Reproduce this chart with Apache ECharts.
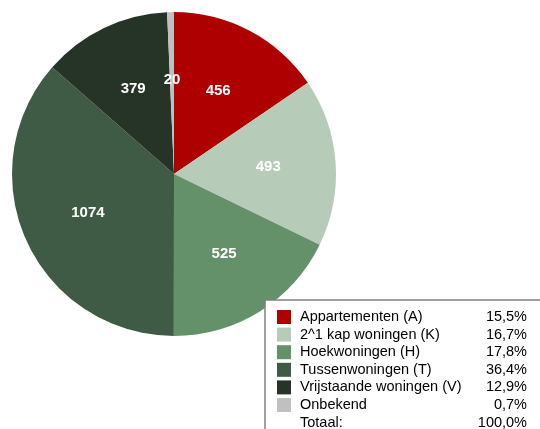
<!DOCTYPE html>
<html>
<head>
<meta charset="utf-8">
<script src="https://cdn.jsdelivr.net/npm/echarts@6/dist/echarts.min.js"></script>
<style>
  html, body { margin: 0; padding: 0; background: #fff; }
  #chart { width: 540px; height: 429px; }
</style>
</head>
<body>
<div id="chart"></div>
<script>
// Woningtypen: aantallen per type
const categories = [
  'Appartementen (A)',
  '2^1 kap woningen (K)',
  'Hoekwoningen (H)',
  'Tussenwoningen (T)',
  'Vrijstaande woningen (V)',
  'Onbekend'
];
const counts = [456, 493, 525, 1074, 379, 20];
const colors = ['#AE0000', '#B6CCB8', '#64906A', '#3F5B45', '#263428', '#C0C0C0'];
const totalLabel = 'Totaal:';

const FONT = '"Liberation Sans", Arial, sans-serif';
const total = counts.reduce((a, b) => a + b, 0);
const fmtPct = v => (v * 100).toFixed(1).replace('.', ',') + '%';
const shares = counts.map(c => fmtPct(c / total));

const pieData = categories.map((name, i) => ({
  name,
  value: counts[i],
  itemStyle: { color: colors[i] }
}));

// Legend box with swatches, names and shares
const boxX = 265, boxY = 300, rowH = 17.6, firstRow = 317;
const legendEls = [{
  type: 'rect',
  shape: { x: boxX, y: boxY, width: 320, height: 200 },
  style: { fill: '#fff', stroke: '#808080', lineWidth: 1.5 },
  z: 100
}];
categories.forEach((name, i) => {
  const cy = firstRow + i * rowH;
  legendEls.push({
    type: 'rect',
    shape: { x: 277, y: cy - 7, width: 14, height: 14 },
    style: { fill: colors[i] },
    z: 101
  });
  legendEls.push({
    type: 'text',
    x: 300, y: cy,
    style: { text: name, font: '14.5px ' + FONT, fill: '#000', verticalAlign: 'middle', align: 'left' },
    z: 101
  });
  legendEls.push({
    type: 'text',
    x: 527, y: cy,
    style: { text: shares[i], font: '14.5px ' + FONT, fill: '#000', verticalAlign: 'middle', align: 'right' },
    z: 101
  });
});
const totY = firstRow + categories.length * rowH;
legendEls.push({
  type: 'text', x: 300, y: totY,
  style: { text: totalLabel, font: '14.5px ' + FONT, fill: '#000', verticalAlign: 'middle', align: 'left' },
  z: 101
});
legendEls.push({
  type: 'text', x: 527, y: totY,
  style: { text: fmtPct(total / total), font: '14.5px ' + FONT, fill: '#000', verticalAlign: 'middle', align: 'right' },
  z: 101
});

const chart = echarts.init(document.getElementById('chart'), null, { renderer: 'canvas' });
chart.setOption({
  animation: false,
  backgroundColor: '#fff',
  series: [
    {
      // the slices
      type: 'pie',
      center: [174, 174],
      radius: [0, 162],
      startAngle: 90,
      clockwise: true,
      silent: true,
      label: { show: false },
      labelLine: { show: false },
      itemStyle: { borderWidth: 0 },
      emphasis: { disabled: true },
      data: pieData
    },
    {
      // value labels placed a bit outward from the slice midpoint
      type: 'pie',
      center: [174, 174],
      radius: [0, 183],
      startAngle: 90,
      clockwise: true,
      silent: true,
      itemStyle: { color: 'rgba(0,0,0,0)', borderWidth: 0 },
      emphasis: { disabled: true },
      label: {
        show: true,
        position: 'inside',
        formatter: p => String(p.value),
        color: '#fff',
        fontFamily: FONT,
        fontWeight: 'bold',
        fontSize: 15,
        textBorderWidth: 0
      },
      labelLine: { show: false },
      data: categories.map((name, i) => ({ name, value: counts[i] }))
    }
  ],
  graphic: { elements: legendEls }
});
</script>
</body>
</html>
